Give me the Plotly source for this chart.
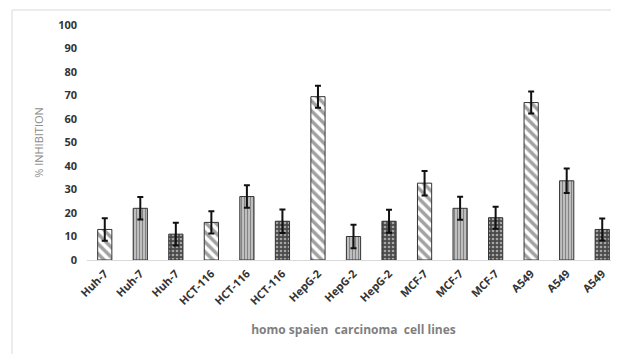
import plotly.graph_objects as go

cell_lines = ["Huh-7", "Huh-7", "Huh-7", "HCT-116", "HCT-116", "HCT-116",
              "HepG-2", "HepG-2", "HepG-2", "MCF-7", "MCF-7", "MCF-7",
              "A549", "A549", "A549"]
inhibition = [13, 22, 11, 16, 27, 16.5, 69.5, 10, 16.5, 32.7, 22, 18, 67, 33.7, 13]
errors = [4.8, 4.8, 4.8, 4.7, 4.8, 5, 4.7, 5, 4.9, 5.2, 4.9, 4.7, 4.7, 5.2, 4.7]
y_ticks = [0, 10, 20, 30, 40, 50, 60, 70, 80, 90, 100]

positions = list(range(len(cell_lines)))
shapes_cycle = ["\\", "|", "."]
fg_cycle = ["#111111", "#7a7a7a", "#b8b8b8"]
bg_cycle = ["#ffffff", "#c4c4c4", "#4a4a4a"]
size_cycle = [7, 3, 4]
solidity_cycle = [0.5, 0.4, 0.35]

fig = go.Figure(go.Bar(
    x=positions,
    y=inhibition,
    width=0.4,
    marker=dict(
        color=[bg_cycle[i % 3] for i in positions],
        line=dict(color="#333333", width=1),
        pattern=dict(
            shape=[shapes_cycle[i % 3] for i in positions],
            fgcolor=[fg_cycle[i % 3] for i in positions],
            bgcolor=[bg_cycle[i % 3] for i in positions],
            size=[size_cycle[i % 3] for i in positions],
            solidity=[solidity_cycle[i % 3] for i in positions],
            fillmode="overlay",
        ),
    ),
    error_y=dict(type="data", array=errors, color="#111111", thickness=2, width=3),
))

# page is offset by the 8px default body margin
OFF = 8
L, T = 87 - OFF, 25 - OFF
R_EDGE = 620 - OFF
BOT = 260 - OFF
W, H = 619, 354
PW, PH = R_EDGE - L, BOT - T
fig.update_layout(
    width=W, height=H,
    margin=dict(l=L, r=W - R_EDGE, t=T, b=H - BOT),
    paper_bgcolor="white", plot_bgcolor="white",
    showlegend=False,
    font=dict(family="Open Sans", color="#333333"),
    xaxis=dict(
        tickmode="array", tickvals=positions,
        ticktext=["<b>%s</b>" % c for c in cell_lines],
        tickangle=-45, tickfont=dict(size=11, color="#333333"),
        range=[-0.5, len(cell_lines) - 0.5],
        showgrid=False, zeroline=False, showline=True, linecolor="#d9d9d9", linewidth=1,
        ticks="", ticklabelstandoff=2,
        title=dict(text="<b>homo spaien  carcinoma  cell lines</b>",
                   font=dict(size=12, color="#7f7f7f"), standoff=18),
    ),
    yaxis=dict(
        range=[0, 100], tickmode="array", tickvals=y_ticks,
        ticktext=["<b>%d</b>" % v for v in y_ticks],
        tickfont=dict(size=11, color="#333333"),
        showgrid=False, zeroline=False, showline=False, ticks="",
        ticklabelstandoff=9,
        title=dict(text="% INHIBITION", font=dict(size=11, color="#8c8c8c"), standoff=12),
    ),
    shapes=[
        dict(type="line", xref="paper", yref="paper",
             x0=(12 - OFF - L) / PW, x1=1.02, y0=1 + (T - (10 - OFF)) / PH, y1=1 + (T - (10 - OFF)) / PH,
             line=dict(color="#d9d9d9", width=1)),
        dict(type="line", xref="paper", yref="paper",
             x0=(12 - OFF - L) / PW, x1=(12 - OFF - L) / PW, y0=1 + (T - (10 - OFF)) / PH, y1=-(H - BOT) / PH,
             line=dict(color="#d9d9d9", width=1)),
    ],
)

fig.write_html("out.html")
